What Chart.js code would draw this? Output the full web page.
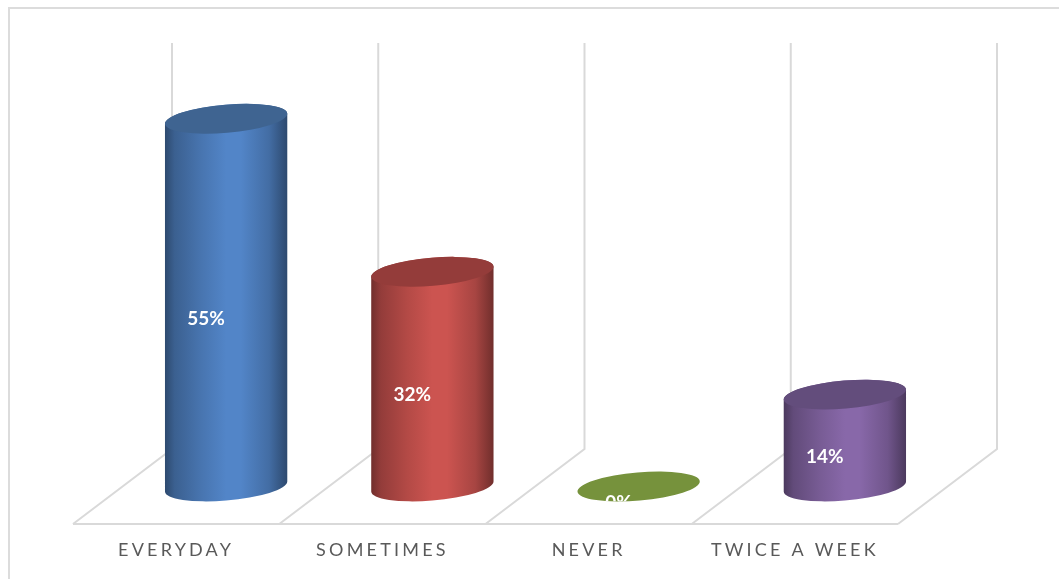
<!DOCTYPE html>
<html>
<head>
<meta charset="utf-8">
<style>
  html, body { margin: 0; padding: 0; background: #fff; }
  #wrap { position: relative; width: 1059px; height: 579px; overflow: hidden; }
  #frame { position: absolute; left: 8px; top: 7px; width: 1100px; height: 700px; border: 2px solid #dcdcdc; box-sizing: border-box; }
  canvas { position: absolute; left: 0; top: 0; }
</style>
</head>
<body>
<div id="wrap">
  <div id="frame"></div>
  <canvas id="myChart" width="1059" height="579"></canvas>
</div>
<script src="https://cdn.jsdelivr.net/npm/chart.js@4"></script>
<script>
const categories = ["EVERYDAY", "SOMETIMES", "NEVER", "TWICE A WEEK"];
const percentValues = [54.8, 32, 0, 13.7];
const bodyColors = ["#5285c8", "#cc5450", "#76923c", "#8868a9"];
const capColors = ["#3f6491", "#943c3a", "#76923c", "#634d7c"];

const gridColor = "#d9d9d9";
// 3D look: offset between the front of the floor and the back wall
const depthX = 99;
const depthY = 75;
const barShift = 0.5;
const tilt = -0.085;
const capHeight = 14;

function shade(hex, f) {
  const c = Chart.helpers.color(hex).rgb;
  return "rgb(" + Math.round(c.r * f) + "," + Math.round(c.g * f) + "," + Math.round(c.b * f) + ")";
}

function cylinderPath(ctx, cx, top, bottom, rx) {
  const t0 = Math.atan(-(capHeight / rx) * Math.tan(tilt));
  ctx.beginPath();
  ctx.ellipse(cx, bottom, rx, capHeight, tilt, t0, t0 + Math.PI);
  ctx.ellipse(cx, top, rx, capHeight, tilt, t0 + Math.PI, t0 + 2 * Math.PI);
  ctx.closePath();
}

class CylinderBar extends Chart.BarElement {
  draw(ctx) {
    const { x, y, base, width } = this.getProps(["x", "y", "base", "width"]);
    const cx = x + depthX / 2 + barShift;
    const top = y - depthY / 2;
    const bottom = base - depthY / 2;
    const rx = width / 2;
    const color = this.options.backgroundColor;
    ctx.save();
    if (bottom - top > 1) {
      const g = ctx.createLinearGradient(cx - rx, 0, cx + rx, 0);
      g.addColorStop(0, shade(color, 0.55));
      g.addColorStop(0.08, shade(color, 0.72));
      g.addColorStop(0.3, shade(color, 0.88));
      g.addColorStop(0.5, shade(color, 1));
      g.addColorStop(0.62, shade(color, 1));
      g.addColorStop(0.85, shade(color, 0.82));
      g.addColorStop(1, shade(color, 0.55));
      cylinderPath(ctx, cx, top, bottom, rx);
      ctx.fillStyle = g;
      ctx.fill();
    }
    ctx.beginPath();
    ctx.ellipse(cx, top, rx, capHeight, tilt, 0, Math.PI * 2);
    ctx.fillStyle = this.options.borderColor;
    ctx.fill();
    ctx.restore();
  }
}
CylinderBar.id = "cylinderBar";
CylinderBar.defaults = Chart.BarElement.defaults;

class CylinderController extends Chart.BarController {}
CylinderController.id = "cylinder";
CylinderController.defaults = { ...Chart.BarController.defaults, dataElementType: "cylinderBar" };
CylinderController.overrides = Chart.BarController.overrides;

Chart.register(CylinderBar, CylinderController);

// floor and back wall lines, taken from the two scales
const wallGrid = {
  id: "wallGrid",
  beforeDraw(chart) {
    chart.ctx.letterSpacing = "3.2px";
  },
  beforeDatasetsDraw(chart) {
    const { ctx, scales } = chart;
    const y0 = scales.y.getPixelForValue(0);
    const yTop = scales.y.getPixelForValue(scales.y.max);
    ctx.save();
    ctx.strokeStyle = gridColor;
    ctx.lineWidth = 2;
    ctx.beginPath();
    ctx.moveTo(scales.x.left, y0);
    ctx.lineTo(scales.x.right, y0);
    for (let i = 0; i <= categories.length; i++) {
      const px = scales.x.getPixelForValue(i - 0.5);
      ctx.moveTo(px, y0);
      ctx.lineTo(px + depthX, y0 - depthY);
      ctx.lineTo(px + depthX, yTop - depthY);
    }
    ctx.stroke();
    ctx.restore();
  },
  afterDatasetsDraw(chart) {
    const { ctx } = chart;
    const bars = chart.getDatasetMeta(0).data;
    ctx.save();
    ctx.letterSpacing = "0px";
    ctx.font = "bold 19px Lato";
    ctx.fillStyle = "#fff";
    ctx.textAlign = "center";
    ctx.textBaseline = "middle";
    bars.forEach((bar, i) => {
      const cx = bar.x + depthX / 2 + barShift;
      const top = bar.y - depthY / 2;
      const bottom = bar.base - depthY / 2;
      ctx.save();
      cylinderPath(ctx, cx, top, bottom, bar.width / 2);
      ctx.clip();
      ctx.fillText(Math.round(percentValues[i]) + "%", bar.x + 30, (top + bottom) / 2 + 16);
      ctx.restore();
    });
    ctx.restore();
  },
  afterDraw(chart) {
    chart.ctx.letterSpacing = "0px";
  }
};

new Chart("myChart", {
  type: "cylinder",
  data: {
    labels: categories,
    datasets: [{
      data: percentValues,
      backgroundColor: bodyColors,
      borderColor: capColors,
      borderWidth: 0,
      categoryPercentage: 1,
      barPercentage: 0.595,
      clip: false
    }]
  },
  plugins: [wallGrid],
  options: {
    responsive: false,
    animation: false,
    events: [],
    layout: { padding: { left: 73, right: 161, top: 118, bottom: 0 } },
    plugins: {
      legend: { display: false },
      title: { display: false },
      tooltip: { enabled: false }
    },
    scales: {
      x: {
        offset: true,
        grid: { display: false },
        border: { display: false },
        ticks: {
          color: "#595959",
          font: { family: "Lato", size: 18 },
          padding: 7,
          autoSkip: false,
          maxRotation: 0,
          minRotation: 0
        },
        afterFit(scale) { scale.height = 55; }
      },
      y: {
        display: false,
        min: 0,
        max: 60.5
      }
    }
  }
});
</script>
</body>
</html>
